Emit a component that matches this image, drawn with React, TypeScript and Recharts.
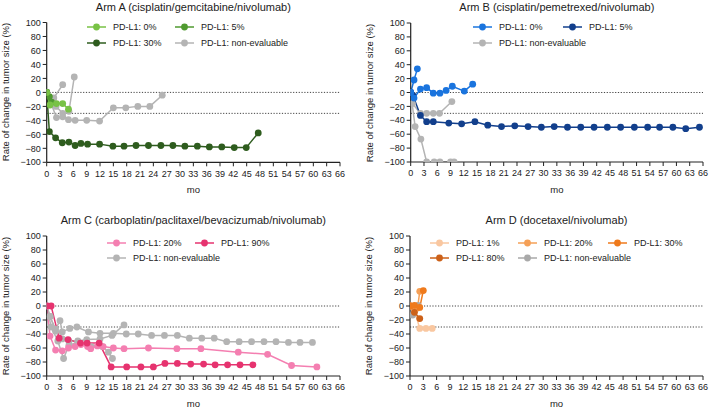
import React from "react";
import { LineChart, Line, XAxis, YAxis, ReferenceLine } from "recharts";

type Pt = { t: number; v: number };
const pts = (a: number[][]): Pt[] => a.map(([t, v]) => ({ t, v }));

// ---- tick labels ----
const xTicks = [0, 3, 6, 9, 12, 15, 18, 21, 24, 27, 30, 33, 36, 39, 42, 45, 48, 51, 54, 57, 60, 63, 66];
const yTicks = [-100, -80, -60, -40, -20, 0, 20, 40, 60, 80, 100];
const refLevels = [0, -30];

// ---- Arm A ----
const armA_pd0 = pts([[0, 0], [0.75, -18], [2.2, -16], [3.6, -16], [4.9, -24]]);
const armA_pd5 = pts([[0, 0], [0.6, -6], [1.1, -14]]);
const armA_pd30 = pts([[0, 0], [0.6, -56], [2, -65], [3.5, -72], [5, -71], [6.4, -76], [7.7, -73], [9.2, -74], [11.9, -74], [14.9, -77], [17.4, -77], [20.1, -76], [22.9, -76], [25.7, -76], [28.4, -76], [31.1, -77], [33.9, -77], [36.6, -78], [39.4, -78], [42.2, -79], [44.9, -79], [47.6, -58]]);
const armA_ne1 = pts([[0, 0], [1.6, -8], [3.6, 11]]);
const armA_ne2 = pts([[0, 0], [2.1, -20], [3.6, -30], [5, -27], [6.2, 22]]);
const armA_ne3 = pts([[0, 0], [2.2, -36], [3.6, -35], [4.9, -39], [6.4, -40], [9, -40], [11.9, -41], [15, -22], [17.8, -22], [20.5, -20], [23.2, -20], [26, -4]]);

// ---- Arm B ----
const armB_pd0a = pts([[0, 0], [0.75, 18], [1.5, 34]]);
const armB_pd0b = pts([[0, 0], [0.75, -8], [2.2, 5], [3.6, 7], [5.1, -1], [6.6, -1], [8, 3], [9.4, 9], [12.1, 2], [14, 12]]);
const armB_pd5 = pts([[0, 0], [0.5, -4], [2.2, -33], [3.6, -42], [5.1, -42], [8.6, -44], [11.5, -45], [14.5, -42], [17.4, -47], [20.5, -49], [23.5, -48], [26.5, -49], [29.5, -50], [32.4, -49], [35.4, -50], [38.4, -50], [41.4, -50], [44.4, -50], [47.4, -50], [50.5, -50], [53.5, -50], [56.2, -50], [59.2, -50], [62.1, -52], [65.2, -50]]);
const armB_ne1 = pts([[0, 0], [0.4, -16], [2.2, -30], [3.6, -30], [5.1, -30], [6.5, -30], [9.3, -13]]);
const armB_ne2 = pts([[0, 0], [1, -49], [2.3, -67], [3.6, -100], [5.3, -100], [6.6, -100], [9, -100], [9.8, -100]]);

// ---- Arm C ----
const armC_pd20 = pts([[0, 0], [0.75, -43], [2, -63], [3.5, -64], [4.9, -60], [6.4, -58], [7.7, -55], [9.2, -58], [9.9, -61], [11.4, -57], [12.7, -58], [15, -60], [17.4, -61], [22.9, -60], [29.3, -61], [34.7, -61], [43.1, -66], [49.7, -69], [55.1, -85], [60.8, -87]]);
const armC_pd90 = pts([[0, 0], [1, 0], [2.8, -46], [4.8, -48], [7.6, -53], [9.1, -53], [11.8, -53], [14.5, -87], [18, -87], [21.2, -87], [24, -87], [26.6, -82], [29.4, -82], [32.4, -83], [35.3, -83], [37.9, -84], [40.7, -84], [43.5, -84], [46.4, -84]]);
const armC_ne1 = pts([[0, 0], [0.7, -15], [2, -33], [3, -21], [3.5, -37], [5.2, -32], [6.8, -30], [9.4, -37], [12, -39], [15, -39], [17.9, -40], [20.6, -40], [23.6, -42], [26.5, -42], [29.4, -42], [32.1, -46], [34.9, -46], [37.7, -46], [40.5, -51], [43.3, -51], [46.1, -51], [48.9, -51], [51.6, -51], [54.4, -52], [57, -52], [59.8, -52]]);
const armC_ne2 = pts([[0, 0], [0.8, -15], [2, -36], [3.5, -47], [5, -50], [7, -50], [9, -48], [12, -47], [14.7, -42], [17.4, -27]]);
const armC_ne3 = pts([[0, 0], [1, -30], [2.5, -50], [3.8, -75], [5, -56], [7, -52], [10, -58], [12.5, -58], [13.9, -66], [14.8, -75]]);

// ---- Arm D ----
const armD_pd1 = pts([[0, 0], [1, -6], [2.2, -32], [3.6, -32], [5, -32]]);
const armD_pd20 = pts([[0, 0], [1, -3], [1.7, -3], [2.2, 21]]);
const armD_pd30 = pts([[0, 0], [1, 1], [2.2, -2], [3, 22]]);
const armD_pd80 = pts([[0, 0], [1, -9], [2.2, -18]]);
const armD_ne1 = pts([[0, 0], [0.6, -13], [1.8, 1]]);

const GRAY = "#b4b4b4";
const FONT = "'Liberation Sans', Arial, sans-serif";

type Series = { data: Pt[]; color: string };
type LegendItem = { label: string; color: string; col: number; row: number };
type Panel = {
  title: string;
  left: number; top: number; width: number; height: number;
  plotLeft: number; plotRight: number; plotTop: number; plotBottom: number;
  series: Series[];
  legend: LegendItem[];
  legendCols: number[];
  legendRows: number[];
};

const panels: Panel[] = [
  {
    title: "Arm A (cisplatin/gemcitabine/nivolumab)",
    left: 0, top: 0, width: 355, height: 200,
    plotLeft: 46.7, plotRight: 340, plotTop: 22.5, plotBottom: 162.3,
    series: [
      { data: armA_ne1, color: GRAY }, { data: armA_ne2, color: GRAY }, { data: armA_ne3, color: GRAY },
      { data: armA_pd30, color: "#2e5c1e" }, { data: armA_pd5, color: "#4f9a2f" }, { data: armA_pd0, color: "#78c245" },
    ],
    legend: [
      { label: "PD-L1: 0%", color: "#78c245", col: 0, row: 0 },
      { label: "PD-L1: 5%", color: "#4f9a2f", col: 1, row: 0 },
      { label: "PD-L1: 30%", color: "#2e5c1e", col: 0, row: 1 },
      { label: "PD-L1: non-evaluable", color: GRAY, col: 1, row: 1 },
    ],
    legendCols: [87, 175], legendRows: [27, 43],
  },
  {
    title: "Arm B (cisplatin/pemetrexed/nivolumab)",
    left: 355, top: 0, width: 354, height: 200,
    plotLeft: 55.7, plotRight: 348, plotTop: 23, plotBottom: 162,
    series: [
      { data: armB_ne1, color: GRAY }, { data: armB_ne2, color: GRAY },
      { data: armB_pd5, color: "#123f8c" }, { data: armB_pd0a, color: "#1a74de" }, { data: armB_pd0b, color: "#1a74de" },
    ],
    legend: [
      { label: "PD-L1: 0%", color: "#1a74de", col: 0, row: 0 },
      { label: "PD-L1: 5%", color: "#123f8c", col: 1, row: 0 },
      { label: "PD-L1: non-evaluable", color: GRAY, col: 0, row: 1 },
    ],
    legendCols: [118, 208], legendRows: [27, 43],
  },
  {
    title: "Arm C (carboplatin/paclitaxel/bevacizumab/nivolumab)",
    left: 0, top: 213, width: 355, height: 197,
    plotLeft: 46.7, plotRight: 340, plotTop: 23, plotBottom: 163,
    series: [
      { data: armC_ne1, color: GRAY }, { data: armC_ne2, color: GRAY }, { data: armC_ne3, color: GRAY },
      { data: armC_pd20, color: "#f47fb1" }, { data: armC_pd90, color: "#e6336f" },
    ],
    legend: [
      { label: "PD-L1: 20%", color: "#f47fb1", col: 0, row: 0 },
      { label: "PD-L1: 90%", color: "#e6336f", col: 1, row: 0 },
      { label: "PD-L1: non-evaluable", color: GRAY, col: 0, row: 1 },
    ],
    legendCols: [107, 195], legendRows: [29.5, 45],
  },
  {
    title: "Arm D (docetaxel/nivolumab)",
    left: 355, top: 213, width: 354, height: 197,
    plotLeft: 55, plotRight: 348, plotTop: 23, plotBottom: 163,
    series: [
      { data: armD_ne1, color: "#a9a9a9" },
      { data: armD_pd1, color: "#f9c7a0" }, { data: armD_pd20, color: "#f5a057" },
      { data: armD_pd80, color: "#cc6119" }, { data: armD_pd30, color: "#ef7a1c" },
    ],
    legend: [
      { label: "PD-L1: 1%", color: "#f9c7a0", col: 0, row: 0 },
      { label: "PD-L1: 20%", color: "#f5a057", col: 1, row: 0 },
      { label: "PD-L1: 30%", color: "#ef7a1c", col: 2, row: 0 },
      { label: "PD-L1: 80%", color: "#cc6119", col: 0, row: 1 },
      { label: "PD-L1: non-evaluable", color: "#a9a9a9", col: 1, row: 1 },
    ],
    legendCols: [75, 163, 253], legendRows: [29.5, 45],
  },
];

const fmt = (v: number) => (v < 0 ? "\u2212" + Math.abs(v) : String(v));
const AXIS_W = 30;
const AXIS_H = 30;
const tickStyle = { fontSize: 9, fill: "#222", fontFamily: FONT };

function PanelView({ p }: { p: Panel }) {
  const margin = {
    top: p.plotTop,
    left: p.plotLeft - AXIS_W,
    right: p.width - p.plotRight,
    bottom: p.height - p.plotBottom - AXIS_H,
  };
  const plotW = p.plotRight - p.plotLeft;
  const plotCY = (p.plotTop + p.plotBottom) / 2;
  return (
    <div style={{ position: "absolute", left: p.left, top: p.top, width: p.width, height: p.height }}>
      <LineChart width={p.width} height={p.height} margin={margin}>
        <XAxis
          type="number" dataKey="t" domain={[0, 66]} ticks={xTicks} interval={0}
          allowDataOverflow height={AXIS_H}
          stroke="#222" tick={tickStyle} tickSize={4} tickMargin={4}
          axisLine={{ stroke: "#222", strokeWidth: 1.2 }} tickLine={{ stroke: "#222" }}
        />
        <YAxis
          type="number" domain={[-100, 100]} ticks={yTicks} interval={0}
          allowDataOverflow width={AXIS_W} tickFormatter={fmt}
          stroke="#222" tick={tickStyle} tickSize={4} tickMargin={2}
          axisLine={{ stroke: "#222", strokeWidth: 1.2 }} tickLine={{ stroke: "#222" }}
        />
        {refLevels.map((y) => (
          <ReferenceLine key={y} y={y} stroke="#444" strokeWidth={1} strokeDasharray="1.2 1.6" />
        ))}
        {p.series.map((s, i) => (
          <Line
            key={i} data={s.data} dataKey="v" type="linear" stroke={s.color} strokeWidth={1.5}
            dot={{ r: 3.4, fill: s.color, stroke: s.color, strokeWidth: 0 }}
            activeDot={false} isAnimationActive={false}
          />
        ))}
      </LineChart>
      <div style={{
        position: "absolute", left: p.plotLeft, width: plotW, top: 0, height: 14, lineHeight: "14px",
        textAlign: "center", fontFamily: FONT, fontSize: 11, color: "#222", whiteSpace: "nowrap",
      }}>{p.title}</div>
      <div style={{
        position: "absolute", left: p.plotLeft - 41 - 100, top: plotCY - 6, width: 200, height: 12,
        lineHeight: "12px", textAlign: "center", transform: "rotate(-90deg)",
        fontFamily: FONT, fontSize: 9.5, color: "#222", whiteSpace: "nowrap",
      }}>Rate of change in tumor size (%)</div>
      <div style={{
        position: "absolute", left: p.plotLeft, width: plotW, top: p.plotBottom + 22, height: 12,
        lineHeight: "12px", textAlign: "center", fontFamily: FONT, fontSize: 9.5, color: "#222",
      }}>mo</div>
      {p.legend.map((l, i) => (
        <div key={i} style={{
          position: "absolute", left: p.legendCols[l.col], top: p.legendRows[l.row] - 6, height: 12,
          display: "flex", alignItems: "center", fontFamily: FONT, fontSize: 9, color: "#222", whiteSpace: "nowrap",
        }}>
          <svg width={19} height={12} style={{ display: "block" }}>
            <line x1={0} y1={6} x2={19} y2={6} stroke={l.color} strokeWidth={1.5} />
            <circle cx={9.5} cy={6} r={3.4} fill={l.color} />
          </svg>
          <span style={{ marginLeft: 7, lineHeight: "12px" }}>{l.label}</span>
        </div>
      ))}
    </div>
  );
}

export default function App() {
  return (
    <div style={{ position: "absolute", left: 0, top: 0, width: 709, height: 410, overflow: "hidden", background: "#fff" }}>
      {panels.map((p, i) => (
        <PanelView key={i} p={p} />
      ))}
    </div>
  );
}
